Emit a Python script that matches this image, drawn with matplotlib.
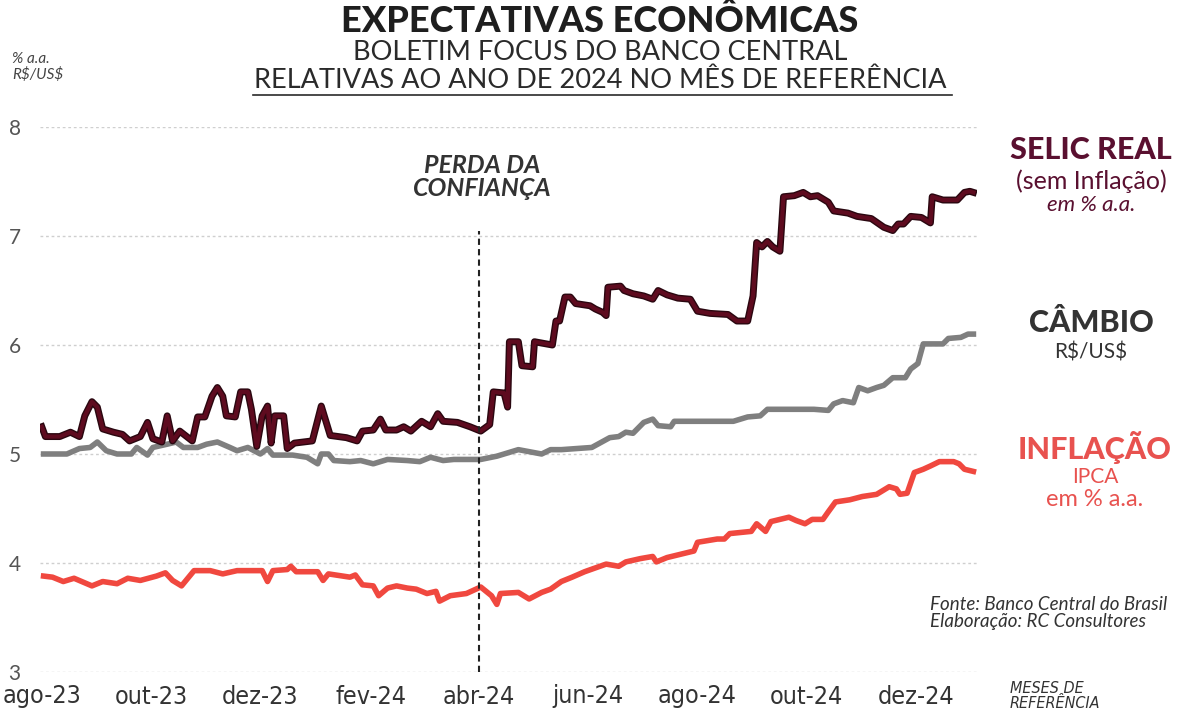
import matplotlib
matplotlib.use("Agg")
import matplotlib.pyplot as plt
import pandas as pd

# dias desde 01/08/2023 e valores
selic_dias = [0, 2, 10, 16, 21, 24, 28, 31, 34, 40, 45, 49, 55, 59, 62, 67, 70, 73, 77, 84,
              87, 91, 95, 98, 101, 103, 108, 111, 115, 117, 120, 123, 126, 128, 130, 135, 137,
              141, 151, 156, 161, 170, 176, 179, 185, 189, 192, 198, 202, 206, 212, 217, 221,
              224, 232, 239, 245, 250, 252, 258, 260, 261, 266, 268, 274, 275, 285, 287, 289,
              292, 295, 298, 306, 309, 313, 315, 316, 323, 325, 330, 336, 341, 344, 349, 355,
              362, 366, 373, 383, 388, 394, 397, 399, 402, 405, 408, 412, 414, 420, 425, 429,
              433, 439, 442, 450, 455, 463, 470, 475, 478, 481, 485, 491, 496, 497, 503, 511,
              515, 518, 520]
selic_vals = [5.25, 5.16, 5.16, 5.20, 5.16, 5.35, 5.48, 5.43, 5.23, 5.20, 5.18, 5.12, 5.16,
              5.29, 5.14, 5.11, 5.35, 5.12, 5.21, 5.12, 5.34, 5.34, 5.53, 5.61, 5.53, 5.35,
              5.34, 5.57, 5.57, 5.41, 5.07, 5.35, 5.44, 5.10, 5.35, 5.35, 5.05, 5.10, 5.12,
              5.44, 5.17, 5.15, 5.12, 5.21, 5.22, 5.32, 5.22, 5.22, 5.25, 5.21, 5.30, 5.25,
              5.37, 5.30, 5.29, 5.25, 5.21, 5.27, 5.57, 5.56, 5.43, 6.03, 6.03, 5.81, 5.80,
              6.03, 6.00, 6.22, 6.22, 6.44, 6.44, 6.38, 6.36, 6.33, 6.30, 6.27, 6.53, 6.54,
              6.50, 6.47, 6.45, 6.42, 6.50, 6.46, 6.43, 6.42, 6.31, 6.29, 6.28, 6.22, 6.22,
              6.45, 6.94, 6.90, 6.95, 6.90, 6.86, 7.36, 7.37, 7.40, 7.36, 7.37, 7.31, 7.23,
              7.21, 7.18, 7.16, 7.08, 7.05, 7.11, 7.11, 7.18, 7.17, 7.12, 7.36, 7.33, 7.33,
              7.40, 7.41, 7.40]

cambio_dias = [1, 14, 21, 27, 31, 36, 42, 50, 53, 59, 62, 70, 75, 79, 87, 92, 98, 105, 109,
               115, 122, 126, 129, 140, 148, 154, 156, 160, 163, 172, 178, 185, 193, 204, 211,
               217, 224, 230, 245, 254, 266, 279, 284, 290, 307, 317, 322, 326, 330, 336, 341,
               344, 351, 353, 386, 394, 401, 405, 431, 439, 442, 447, 453, 456, 461, 466, 470,
               475, 482, 485, 489, 492, 503, 506, 513, 517, 520]
cambio_vals = [5.00, 5.00, 5.05, 5.06, 5.11, 5.03, 5.00, 5.00, 5.06, 4.99, 5.06, 5.09, 5.11,
               5.06, 5.06, 5.09, 5.11, 5.06, 5.03, 5.06, 5.00, 5.05, 4.99, 4.99, 4.97, 4.91,
               5.00, 5.00, 4.94, 4.93, 4.94, 4.91, 4.95, 4.94, 4.93, 4.97, 4.94, 4.95, 4.95,
               4.98, 5.04, 5.00, 5.04, 5.04, 5.06, 5.15, 5.16, 5.20, 5.19, 5.29, 5.32, 5.26,
               5.25, 5.30, 5.30, 5.34, 5.35, 5.41, 5.41, 5.40, 5.46, 5.49, 5.47, 5.61, 5.58,
               5.61, 5.63, 5.70, 5.70, 5.78, 5.83, 6.01, 6.01, 6.06, 6.07, 6.10, 6.10]

ipca_dias = [1, 6, 12, 18, 28, 34, 42, 48, 55, 64, 69, 73, 78, 85, 94, 101, 109, 123, 126, 129,
             137, 139, 142, 154, 157, 160, 172, 175, 179, 185, 188, 193, 198, 204, 209, 215,
             220, 222, 228, 237, 245, 251, 254, 256, 266, 272, 279, 284, 290, 296, 303, 315,
             322, 326, 334, 341, 343, 349, 364, 366, 377, 381, 384, 396, 399, 404, 407, 417,
             421, 426, 430, 436, 439, 443, 451, 458, 466, 473, 477, 479, 483, 487, 492, 496,
             501, 509, 512, 515, 520]
ipca_vals = [3.88, 3.87, 3.83, 3.86, 3.79, 3.83, 3.81, 3.86, 3.84, 3.88, 3.91, 3.84, 3.79,
             3.93, 3.93, 3.90, 3.93, 3.93, 3.83, 3.93, 3.94, 3.97, 3.92, 3.92, 3.84, 3.90,
             3.87, 3.89, 3.80, 3.79, 3.70, 3.77, 3.79, 3.77, 3.76, 3.72, 3.74, 3.65, 3.70,
             3.72, 3.78, 3.70, 3.62, 3.72, 3.73, 3.67, 3.73, 3.76, 3.83, 3.87, 3.92, 3.99,
             3.97, 4.01, 4.04, 4.06, 4.01, 4.05, 4.11, 4.19, 4.22, 4.22, 4.27, 4.29, 4.36,
             4.29, 4.38, 4.42, 4.39, 4.36, 4.40, 4.40, 4.47, 4.56, 4.58, 4.61, 4.63, 4.70,
             4.68, 4.63, 4.64, 4.83, 4.86, 4.89, 4.93, 4.93, 4.91, 4.86, 4.84]

meses_ticks = ["2023-08-01", "2023-10-01", "2023-12-01", "2024-02-01", "2024-04-01",
               "2024-06-01", "2024-08-01", "2024-10-01", "2024-12-01"]
meses_labels = ["ago-23", "out-23", "dez-23", "fev-24", "abr-24", "jun-24", "ago-24",
                "out-24", "dez-24"]
data_perda = "2024-04-01"

inicio = pd.Timestamp("2023-08-01")


def datas(dias):
    return inicio + pd.to_timedelta(dias, unit="D")


plt.rcParams["font.family"] = ["Lato", "DejaVu Sans"]
plt.rcParams["text.parse_math"] = False

fig = plt.figure(figsize=(12, 7.19), dpi=100)
ax = fig.add_axes([40 / 1200, 1 - 672 / 719, 937 / 1200, 545 / 719])

cor_selic = "#5e0b1f"
cor_cambio = "#7f7f7f"
cor_ipca = "#f0483f"

ax.plot(datas(ipca_dias), ipca_vals, color=cor_ipca, lw=4, solid_joinstyle="round")
ax.plot(datas(cambio_dias), cambio_vals, color=cor_cambio, lw=4, solid_joinstyle="round")
ax.plot(datas(selic_dias), selic_vals, color="#2a0710", lw=5, solid_joinstyle="round")
ax.plot(datas(selic_dias), selic_vals, color=cor_selic, lw=3, solid_joinstyle="round")

ax.axvline(pd.Timestamp(data_perda), ymin=0, ymax=0.81, color="#222222", lw=1.5,
           ls=(0, (3, 2)))

ax.set_ylim(3, 8)
ax.set_xlim(inicio - pd.Timedelta(days=1), inicio + pd.Timedelta(days=522))
ax.set_yticks([3, 4, 5, 6, 7, 8])
ax.grid(axis="y", color="#cfcfcf", ls=(0, (2, 2)), lw=1)
ax.set_axisbelow(True)
for s in ax.spines.values():
    s.set_visible(False)
ax.tick_params(length=0)
ax.tick_params(axis="y", labelsize=15, labelcolor="#555555", pad=14)
ax.set_xticks(pd.to_datetime(meses_ticks))
ax.set_xticklabels(meses_labels, fontsize=18, color="#333333",
                   family="DejaVu Sans", fontstretch="condensed")
ax.tick_params(axis="x", pad=9)

# títulos
fig.text(0.5, 1 - 21 / 719, "EXPECTATIVAS ECONÔMICAS", ha="center", va="center",
         fontsize=26, fontweight="black", color="#1e1e1e")
fig.text(0.5, 1 - 52 / 719, "BOLETIM FOCUS DO BANCO CENTRAL", ha="center", va="center",
         fontsize=19.5, color="#2a2a2a")
fig.text(0.5, 1 - 80 / 719, "RELATIVAS AO ANO DE 2024 NO MÊS DE REFERÊNCIA",
         ha="center", va="center", fontsize=19.5, color="#2a2a2a")
fig.add_artist(plt.Line2D([253 / 1200, 952 / 1200], [1 - 95 / 719, 1 - 95 / 719],
                          color="#2a2a2a", lw=1.2))

fig.text(12 / 1200, 1 - 67 / 719, "% a.a.\nR$/US$", ha="left", va="center",
         fontsize=11, style="italic", color="#444444", linespacing=1.05)

fig.text(482 / 1200, 1 - 177 / 719, "PERDA DA\nCONFIANÇA", ha="center", va="center",
         fontsize=18, fontweight="bold", style="italic", color="#333333", linespacing=0.95)

# rótulos das séries
fig.text(1091 / 1200, 1 - 150 / 719, "SELIC REAL", ha="center", va="center",
         fontsize=22, fontweight="black", color="#5a1030")
fig.text(1091 / 1200, 1 - 181 / 719, "(sem Inflação)", ha="center", va="center",
         fontsize=18, color="#5a1030")
fig.text(1091 / 1200, 1 - 205 / 719, "em % a.a.", ha="center", va="center",
         fontsize=16, style="italic", color="#5a1030")

fig.text(1091 / 1200, 1 - 323 / 719, "CÂMBIO", ha="center", va="center",
         fontsize=22, fontweight="black", color="#333333")
fig.text(1091 / 1200, 1 - 353 / 719, "R$/US$", ha="center", va="center",
         fontsize=15, color="#333333")

fig.text(1095 / 1200, 1 - 448 / 719, "INFLAÇÃO", ha="center", va="center",
         fontsize=22, fontweight="black", color="#e8524f")
fig.text(1095 / 1200, 1 - 477 / 719, "IPCA", ha="center", va="center",
         fontsize=15, color="#e8524f")
fig.text(1095 / 1200, 1 - 500 / 719, "em % a.a.", ha="center", va="center",
         fontsize=17, color="#e8524f")

fig.text(930 / 1200, 1 - 613 / 719, "Fonte: Banco Central do Brasil\nElaboração: RC Consultores",
         ha="left", va="center", fontsize=13.5, style="italic", color="#333333",
         linespacing=1.05)

fig.text(1010 / 1200, 1 - 696 / 719, "MESES DE\nREFERÊNCIA", ha="left", va="center",
         fontsize=11.5, style="italic", color="#333333", linespacing=1.0,
         family="DejaVu Sans", fontstretch="condensed")

fig.savefig("out.png", dpi=100, facecolor="white")
